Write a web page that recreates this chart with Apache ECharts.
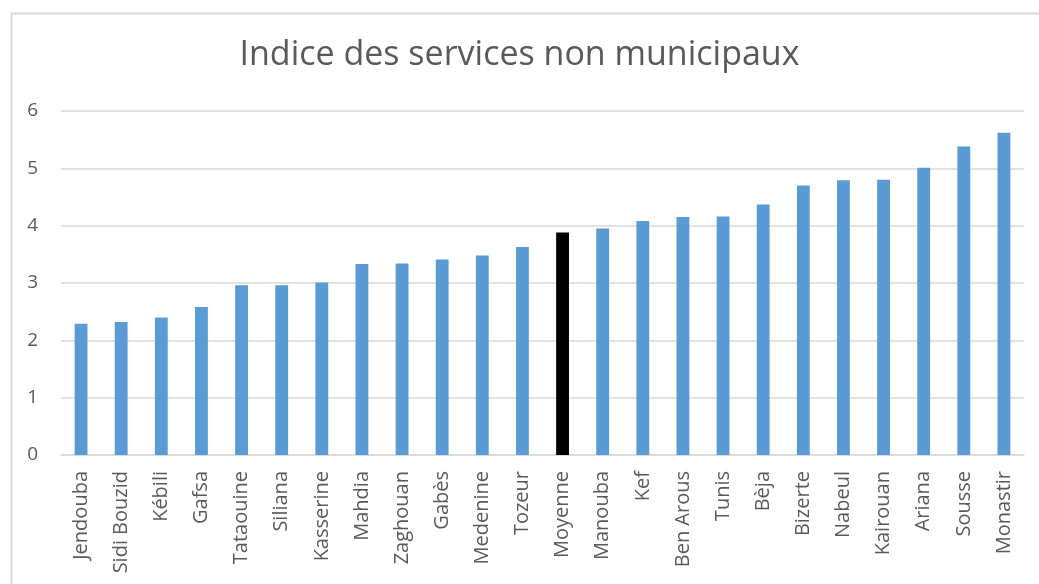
<!DOCTYPE html>
<html>
<head>
<meta charset="utf-8">
<script src="https://cdn.jsdelivr.net/npm/echarts@6/dist/echarts.min.js"></script>
<style>
  html, body { margin: 0; padding: 0; background: #fff; }
  #chart { width: 1039px; height: 584px; }
</style>
</head>
<body>
<div id="chart"></div>
<script>

var regions = ['Jendouba', 'Sidi Bouzid', 'Kébili', 'Gafsa', 'Tataouine', 'Siliana', 'Kasserine',
    'Mahdia', 'Zaghouan', 'Gabès', 'Medenine', 'Tozeur', 'Moyenne', 'Manouba', 'Kef', 'Ben Arous',
    'Tunis', 'Bèja', 'Bizerte', 'Nabeul', 'Kairouan', 'Ariana', 'Sousse', 'Monastir'];

var indexValues = [2.29, 2.32, 2.40, 2.58, 2.96, 2.96, 3.01, 3.33, 3.34, 3.41, 3.48, 3.63,
    3.88, 3.95, 4.08, 4.15, 4.16, 4.37, 4.70, 4.79, 4.80, 5.01, 5.38, 5.62];

var averageName = 'Moyenne';

var myChart = echarts.init(document.getElementById('chart'));

// the average bar is drawn in black, the others in blue
var barData = regions.map(function (name, i) {
    return {
        value: indexValues[i],
        itemStyle: { color: name === averageName ? '#000000' : '#5b9bd5' }
    };
});

var option = {
    backgroundColor: '#ffffff',
    animation: false,
    textStyle: { fontFamily: 'Open Sans' },
    title: {
        text: 'Indice des services non municipaux',
        left: 'center',
        top: 33,
        textStyle: {
            color: '#595959',
            fontSize: 34,
            fontWeight: 'normal',
            fontFamily: 'Open Sans'
        }
    },
    graphic: [{
        type: 'rect',
        left: 9,
        top: 11,
        shape: { width: 1040, height: 590 },
        style: { fill: 'none', stroke: '#d9d9d9', lineWidth: 2 },
        silent: true
    }],
    grid: {
        left: 61,
        right: 15,
        top: 111,
        bottom: 129
    },
    xAxis: {
        type: 'category',
        data: regions,
        axisTick: { show: false },
        axisLine: { lineStyle: { color: '#d9d9d9', width: 1.5 } },
        axisLabel: {
            rotate: 90,
            interval: 0,
            margin: 16,
            color: '#595959',
            fontSize: 20
        }
    },
    yAxis: {
        type: 'value',
        min: 0,
        max: 6,
        interval: 1,
        axisLine: { show: false },
        axisTick: { show: false },
        splitLine: { lineStyle: { color: '#d9d9d9', width: 1.5 } },
        axisLabel: {
            color: '#595959',
            fontSize: 19,
            margin: 23
        }
    },
    series: [{
        type: 'bar',
        data: barData,
        barWidth: '32%'
    }]
};

myChart.setOption(option);
</script>
</body>
</html>
